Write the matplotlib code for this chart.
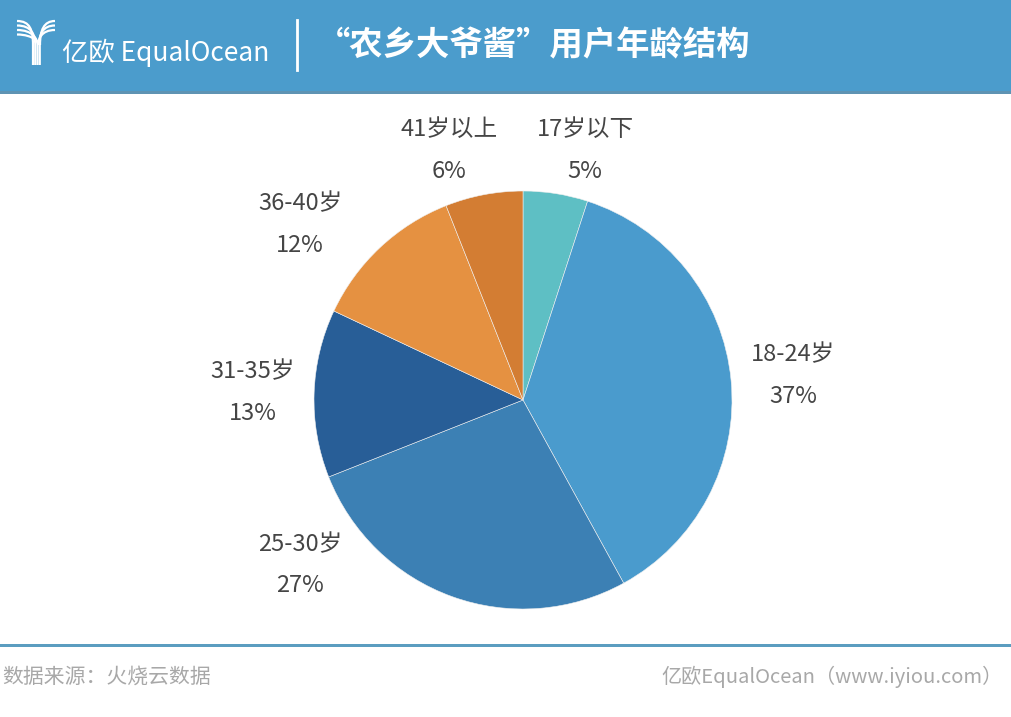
import matplotlib
matplotlib.use("Agg")
import matplotlib.pyplot as plt
from matplotlib.patches import Rectangle, PathPatch
from matplotlib.path import Path
from matplotlib.lines import Line2D

plt.rcParams['font.family'] = ['Noto Sans CJK SC', 'DejaVu Sans']

# data
groups = ["17岁以下", "18-24岁", "25-30岁", "31-35岁", "36-40岁", "41岁以上"]
shares = [5, 37, 27, 13, 12, 6]
colors = ["#5EBFC4", "#4A9BCD", "#3C80B4", "#285E97", "#E59141", "#D37D33"]

title = "“农乡大爷酱”用户年龄结构"
source = "数据来源：火烧云数据"
credit = "亿欧EqualOcean（www.iyiou.com）"

# label layout (pixel x, y of name line, y of percent line)
label_pos = [(585, 129, 171), (793, 355, 397), (300, 545, 586),
             (253, 372, 414), (300, 204, 246), (449, 129, 171)]

W, H = 1011, 717
fig = plt.figure(figsize=(W / 100, H / 100), dpi=100)
fig.patch.set_facecolor("white")


def fx(x):
    return x / W


def fy(y):
    return 1 - y / H


# header band
fig.add_artist(Rectangle((0, fy(92)), 1, 92 / H, transform=fig.transFigure,
                         facecolor="#4B9CCC", edgecolor="none"))
fig.add_artist(Rectangle((0, fy(94)), 1, 2.5 / H, transform=fig.transFigure,
                         facecolor="#5E93B3", edgecolor="none"))

# logo icon, a rough Y made of curved stripes
for i in range(4):
    off = i * 4.5
    verts = [(17, 21 + off), (30 + off * 0.3, 21 + off), (33 + off * 0.5, 30 + off),
             (33 + off * 0.5, 45), (33 + off * 0.5, 65)]
    verts = [(fx(a), fy(b)) for a, b in verts]
    codes = [Path.MOVETO, Path.CURVE4, Path.CURVE4, Path.CURVE4, Path.LINETO]
    fig.add_artist(PathPatch(Path(verts, codes), transform=fig.transFigure,
                             facecolor="none", edgecolor="white", lw=1.6))
for i in range(3):
    off = i * 4.5
    verts = [(55, 21 + off), (44 - off * 0.3, 21 + off), (40 - off * 0.2, 30 + off),
             (40 - off * 0.2, 45)]
    verts = [(fx(a), fy(b)) for a, b in verts]
    codes = [Path.MOVETO, Path.CURVE4, Path.CURVE4, Path.CURVE4]
    fig.add_artist(PathPatch(Path(verts, codes), transform=fig.transFigure,
                             facecolor="none", edgecolor="white", lw=1.6))

fig.text(fx(62), fy(53), "亿欧 EqualOcean", color="white", fontsize=19,
         ha="left", va="center")
fig.add_artist(Line2D([fx(297), fx(297)], [fy(20), fy(70)], transform=fig.transFigure,
                      color="white", lw=2))
fig.text(fx(317), fy(46), title, color="white", fontsize=24, fontweight="bold",
         ha="left", va="center")

# pie
cx, cy, r = 523, 400, 209
ax = fig.add_axes([fx(cx - r), fy(cy + r), 2 * r / W, 2 * r / H])
ax.pie(shares, colors=colors, startangle=90, counterclock=False, radius=1,
       wedgeprops=dict(edgecolor="#f0f0f0", linewidth=0.4))
ax.set_xlim(-1, 1)
ax.set_ylim(-1, 1)
ax.set_aspect("auto")
ax.axis("off")

for name, val, (lx, ly1, ly2) in zip(groups, shares, label_pos):
    fig.text(fx(lx), fy(ly1), name, color="#454545", fontsize=17,
             ha="center", va="center")
    fig.text(fx(lx), fy(ly2), f"{val}%", color="#454545", fontsize=17,
             ha="center", va="center")

# footer
fig.add_artist(Rectangle((0, fy(647)), 1, 3 / H, transform=fig.transFigure,
                         facecolor="#5B9DC0", edgecolor="none"))
fig.text(fx(2), fy(677), source, color="#A8A8A8", fontsize=15,
         ha="left", va="center")
fig.text(fx(1003), fy(677), credit, color="#A8A8A8", fontsize=14.5,
         ha="right", va="center")

fig.savefig("out.png", dpi=100)
